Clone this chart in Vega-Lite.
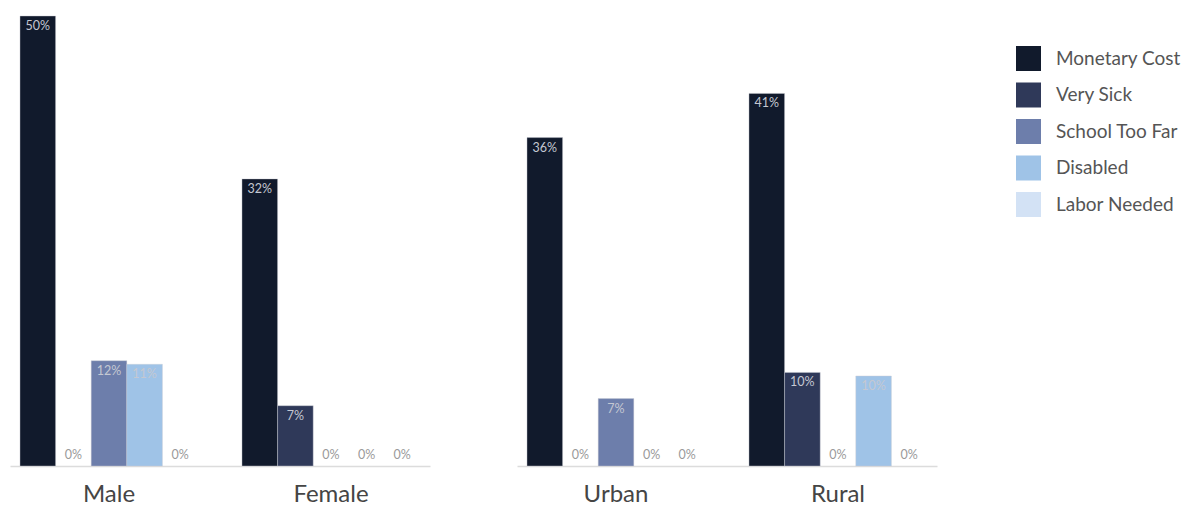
{
  "$schema": "https://vega.github.io/schema/vega-lite/v6.json",
  "padding": {"left": 10, "top": 15, "right": 0, "bottom": 0},
  "background": "white",
  "config": {"view": {"stroke": null}},
  "data": {
    "values": [
      {"panel": "Gender", "group": "Male", "cause": "Monetary Cost", "value": 0.50},
      {"panel": "Gender", "group": "Male", "cause": "Very Sick", "value": 0},
      {"panel": "Gender", "group": "Male", "cause": "School Too Far", "value": 0.117},
      {"panel": "Gender", "group": "Male", "cause": "Disabled", "value": 0.113},
      {"panel": "Gender", "group": "Male", "cause": "Labor Needed", "value": 0},
      {"panel": "Gender", "group": "Female", "cause": "Monetary Cost", "value": 0.319},
      {"panel": "Gender", "group": "Female", "cause": "Very Sick", "value": 0.067},
      {"panel": "Gender", "group": "Female", "cause": "School Too Far", "value": 0},
      {"panel": "Gender", "group": "Female", "cause": "Disabled", "value": 0},
      {"panel": "Gender", "group": "Female", "cause": "Labor Needed", "value": 0},
      {"panel": "Location", "group": "Urban", "cause": "Monetary Cost", "value": 0.3649},
      {"panel": "Location", "group": "Urban", "cause": "Very Sick", "value": 0},
      {"panel": "Location", "group": "Urban", "cause": "School Too Far", "value": 0.0749},
      {"panel": "Location", "group": "Urban", "cause": "Disabled", "value": 0},
      {"panel": "Location", "group": "Urban", "cause": "Labor Needed", "value": 0},
      {"panel": "Location", "group": "Rural", "cause": "Monetary Cost", "value": 0.414},
      {"panel": "Location", "group": "Rural", "cause": "Very Sick", "value": 0.104},
      {"panel": "Location", "group": "Rural", "cause": "School Too Far", "value": 0},
      {"panel": "Location", "group": "Rural", "cause": "Disabled", "value": 0.1},
      {"panel": "Location", "group": "Rural", "cause": "Labor Needed", "value": 0}
    ]
  },
  "facet": {
    "column": {"field": "panel", "type": "nominal", "sort": ["Gender", "Location"], "title": null, "header": {"labels": false, "title": null}}
  },
  "spacing": 87,
  "resolve": {"scale": {"x": "independent", "xOffset": "independent"}},
  "spec": {
    "width": 420,
    "height": 450,
    "encoding": {
      "x": {
        "field": "group", "type": "nominal", "sort": ["Male", "Female", "Urban", "Rural"],
        "scale": {"paddingInner": 0.198, "paddingOuter": 0.045},
        "axis": {"title": null, "labelAngle": 0, "labelFontSize": 24, "labelColor": "#454545", "labelFont": "Lato", "labelPadding": 16, "ticks": false, "domainColor": "#dcdcdc", "domainWidth": 1.5}
      },
      "xOffset": {
        "field": "cause", "type": "nominal",
        "sort": ["Monetary Cost", "Very Sick", "School Too Far", "Disabled", "Labor Needed"],
        "scale": {"paddingInner": 0, "paddingOuter": 0}
      },
      "y": {"field": "value", "type": "quantitative", "scale": {"domain": [0, 0.5], "nice": false}, "axis": null}
    },
    "layer": [
      {
        "transform": [{"filter": "datum.value > 0"}],
        "mark": {"type": "bar", "stroke": "#c9ccd3", "strokeWidth": 0.6, "strokeOpacity": 0.7},
        "encoding": {
          "color": {
            "field": "cause", "type": "nominal",
            "sort": ["Monetary Cost", "Very Sick", "School Too Far", "Disabled", "Labor Needed"],
            "scale": {"domain": ["Monetary Cost", "Very Sick", "School Too Far", "Disabled", "Labor Needed"], "range": ["#111a2c", "#2f3959", "#6d7eab", "#9fc3e7", "#d3e2f5"]},
            "legend": {
              "title": null, "orient": "none", "legendX": 1006, "legendY": 30,
              "symbolType": "square", "symbolSize": 625, "symbolStrokeWidth": 0, "symbolOpacity": 1,
              "labelFontSize": 19, "labelFont": "Lato", "labelColor": "#555555", "labelOffset": 15,
              "rowPadding": 11.5, "labelLimit": 300
            }
          }
        }
      },
      {
        "transform": [{"filter": "datum.value > 0"}],
        "mark": {"type": "text", "baseline": "top", "dy": 4, "fontSize": 12.5, "font": "Lato", "color": "#c4c8d2"},
        "encoding": {"text": {"field": "value", "type": "quantitative", "format": ".0%"}}
      },
      {
        "transform": [{"filter": "datum.value == 0"}],
        "mark": {"type": "text", "baseline": "middle", "dy": -11, "fontSize": 12.5, "font": "Lato", "color": "#9a9a9a"},
        "encoding": {"text": {"field": "value", "type": "quantitative", "format": ".0%"}}
      }
    ]
  }
}
